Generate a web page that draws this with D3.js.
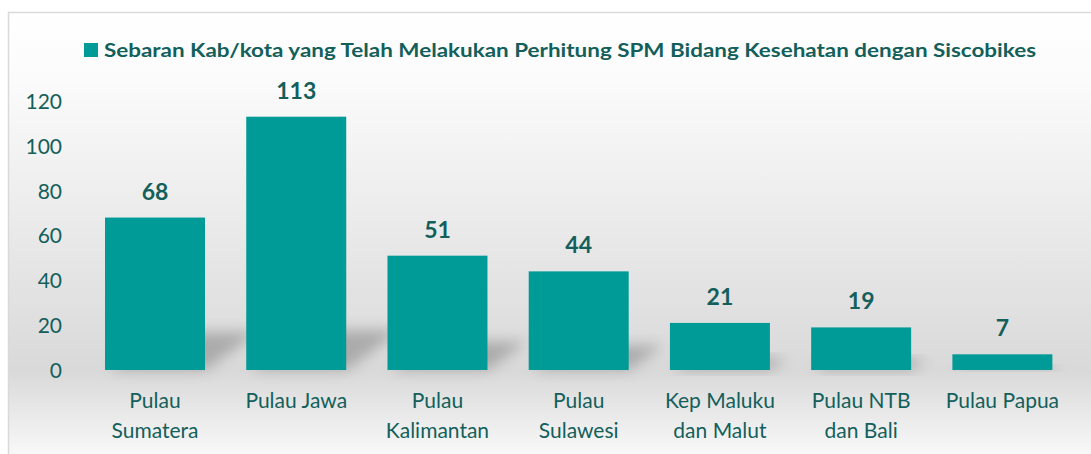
<!DOCTYPE html>
<html>
<head>
<meta charset="utf-8">
<script src="https://cdn.jsdelivr.net/npm/d3@7"></script>
<style>
  body { margin: 0; background: #fff; }
  svg { display: block; }
</style>
</head>
<body>
<div id="chart"></div>
<script>
const categories = [
  ["Pulau", "Sumatera"],
  ["Pulau Jawa"],
  ["Pulau", "Kalimantan"],
  ["Pulau", "Sulawesi"],
  ["Kep Maluku", "dan Malut"],
  ["Pulau NTB", "dan Bali"],
  ["Pulau Papua"]
];
const values = [68, 113, 51, 44, 21, 19, 7];
const yTicks = [0, 20, 40, 60, 80, 100, 120];
const seriesName = "Sebaran Kab/kota yang Telah Melakukan Perhitung SPM Bidang Kesehatan dengan Siscobikes";

const width = 1091, height = 454;
const font = "Lato, 'Open Sans', sans-serif";
const barColor = "#009a97";
const textColor = "#135f5b";

const svg = d3.select("#chart").append("svg")
  .attr("width", width).attr("height", height);

const defs = svg.append("defs");
const grad = defs.append("linearGradient")
  .attr("id", "bg").attr("x1", 0).attr("y1", 0).attr("x2", 0).attr("y2", 1);
grad.append("stop").attr("offset", "0%").attr("stop-color", "#ffffff");
grad.append("stop").attr("offset", "15%").attr("stop-color", "#fbfbfb");
grad.append("stop").attr("offset", "78%").attr("stop-color", "#d9d9d9");
grad.append("stop").attr("offset", "100%").attr("stop-color", "#ffffff");

const blur = defs.append("filter").attr("id", "blur")
  .attr("x", "-50%").attr("y", "-50%").attr("width", "200%").attr("height", "200%");
blur.append("feGaussianBlur").attr("stdDeviation", 7);

// chart area box
svg.append("rect")
  .attr("x", 8.5).attr("y", 12.5)
  .attr("width", 1100).attr("height", 460)
  .attr("fill", "url(#bg)")
  .attr("stroke", "#d9d9d9").attr("stroke-width", 1.5);

const x = d3.scaleBand()
  .domain(d3.range(values.length))
  .range([84.4, 1073])
  .paddingInner(0.292)
  .paddingOuter(0.146);

const y = d3.scaleLinear().domain([0, 120]).range([370, 101]);

// y axis
const yAxis = svg.append("g")
  .attr("transform", "translate(62,0)")
  .call(d3.axisLeft(y).tickValues(yTicks).tickSize(0).tickPadding(0));
yAxis.select(".domain").remove();
yAxis.selectAll("text")
  .attr("font-family", font).attr("font-size", 21)
  .attr("fill", textColor).attr("dy", "0.35em");

// shadows
svg.append("g").selectAll("polygon")
  .data(values)
  .join("polygon")
  .attr("points", (d, i) => {
    const x0 = x(i), x1 = x(i) + x.bandwidth();
    const h = y(0) - y(d);
    const sx = Math.min(h * 0.35, 55), sy = Math.min(h * 0.25, 40);
    return [[x0 + 4, y(0)], [x1, y(0)], [x1 + sx, y(0) - sy], [x0 + sx, y(0) - sy]]
      .map(p => p.join(",")).join(" ");
  })
  .attr("fill", "#7a7a7a")
  .attr("opacity", 0.5)
  .attr("filter", "url(#blur)");

// bars
svg.append("g").selectAll("rect")
  .data(values)
  .join("rect")
  .attr("x", (d, i) => x(i))
  .attr("y", d => y(d))
  .attr("width", x.bandwidth())
  .attr("height", d => y(0) - y(d))
  .attr("fill", barColor);

// value labels
svg.append("g").selectAll("text")
  .data(values)
  .join("text")
  .attr("x", (d, i) => x(i) + x.bandwidth() / 2)
  .attr("y", d => y(d) - 18)
  .attr("text-anchor", "middle")
  .attr("font-family", font).attr("font-size", 23).attr("font-weight", "bold")
  .attr("fill", textColor)
  .text(d => d);

// category labels
const catG = svg.append("g").selectAll("text")
  .data(categories)
  .join("text")
  .attr("x", (d, i) => x(i) + x.bandwidth() / 2)
  .attr("y", 408)
  .attr("text-anchor", "middle")
  .attr("font-family", font).attr("font-size", 21)
  .attr("fill", textColor);
catG.selectAll("tspan")
  .data(d => d)
  .join("tspan")
  .attr("x", function () { return this.parentNode.getAttribute("x"); })
  .attr("dy", (d, j) => j === 0 ? 0 : 30)
  .text(d => d);

// legend
svg.append("rect")
  .attr("x", 84).attr("y", 43).attr("width", 14).attr("height", 14)
  .attr("fill", barColor);
svg.append("text")
  .attr("x", 104).attr("y", 57)
  .attr("font-family", font).attr("font-size", 19).attr("font-weight", "bold")
  .attr("fill", textColor)
  .attr("textLength", 932).attr("lengthAdjust", "spacingAndGlyphs")
  .text(seriesName);
</script>
</body>
</html>
